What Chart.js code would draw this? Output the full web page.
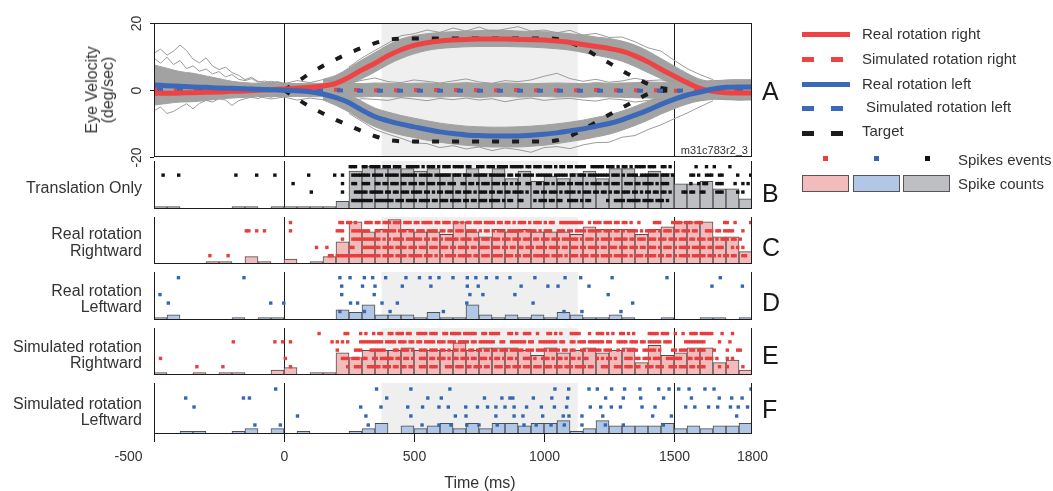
<!DOCTYPE html>
<html>
<head>
<meta charset="utf-8">
<title>Eye velocity and spike rasters</title>
<script src="https://cdn.jsdelivr.net/npm/chart.js@4.4.1/dist/chart.umd.min.js"></script>
<style>
  html, body { margin: 0; background: #fff; }
  #fig { position: relative; width: 1053px; height: 491px; overflow: hidden;
         font-family: "Liberation Sans", Arial, Helvetica, sans-serif; color: #333; }
  #fig canvas { position: absolute; left: 0; }
  .row-label { position: absolute; right: 911px; text-align: right; font-size: 16px; line-height: 16.5px; white-space: nowrap; }
  .letter { position: absolute; left: 762px; font-size: 25px; line-height: 25px; color: #1a1a1a; }
  .leg-text { position: absolute; font-size: 15px; line-height: 18px; white-space: nowrap; }
  .sw { position: absolute; }
  .box { position: absolute; box-sizing: border-box; border: 1.5px solid #555; width: 47px; height: 17px; top: 175px; }
</style>
</head>
<body>
<div id="fig">
  <canvas id="cvB" width="1053" height="56" style="top:157px"></canvas>
  <canvas id="cvC" width="1053" height="55" style="top:213px"></canvas>
  <canvas id="cvD" width="1053" height="56" style="top:268px"></canvas>
  <canvas id="cvE" width="1053" height="55" style="top:324px"></canvas>
  <canvas id="cvF" width="1053" height="112" style="top:379px"></canvas>
  <canvas id="cvA" width="1053" height="175" style="top:0"></canvas>

  <div style="position:absolute;left:99.5px;top:90px;transform:translate(-50%,-50%) rotate(-90deg);text-align:center;font-size:16px;line-height:16px;white-space:nowrap">Eye Velocity<br>(deg/sec)</div>
  <div style="position:absolute;right:305px;top:143.7px;font-size:11px;line-height:13px">m31c783r2_3</div>

  <div class="row-label" style="top:179.5px">Translation Only</div>
  <div class="row-label" style="top:226.2px">Real rotation<br>Rightward</div>
  <div class="row-label" style="top:282.9px">Real rotation<br>Leftward</div>
  <div class="row-label" style="top:338.5px">Simulated rotation<br>Rightward</div>
  <div class="row-label" style="top:395.5px">Simulated rotation<br>Leftward</div>

  <div class="letter" style="top:78.8px">A</div>
  <div class="letter" style="top:180.5px">B</div>
  <div class="letter" style="top:234.8px">C</div>
  <div class="letter" style="top:289.8px">D</div>
  <div class="letter" style="top:343.1px">E</div>
  <div class="letter" style="top:397.1px">F</div>

  <div style="position:absolute;left:380px;width:200px;top:473.5px;text-align:center;font-size:16px;line-height:18px">Time (ms)</div>

  <!-- legend -->
  <div class="sw" style="left:802px;top:31.5px;width:48px;height:5px;background:#ef4343"></div>
  <div class="leg-text" style="left:862px;top:25.2px">Real rotation right</div>
  <div class="sw" style="left:802px;top:56.5px;width:12px;height:5px;background:#ef4343"></div>
  <div class="sw" style="left:831px;top:56.5px;width:12px;height:5px;background:#ef4343"></div>
  <div class="leg-text" style="left:862px;top:49.7px">Simulated rotation right</div>
  <div class="sw" style="left:802px;top:81.5px;width:48px;height:5px;background:#3b68b8"></div>
  <div class="leg-text" style="left:862px;top:75px">Real rotation left</div>
  <div class="sw" style="left:802px;top:106px;width:12px;height:5px;background:#3b68b8"></div>
  <div class="sw" style="left:831px;top:106px;width:12px;height:5px;background:#3b68b8"></div>
  <div class="leg-text" style="left:866px;top:98.3px">Simulated rotation left</div>
  <div class="sw" style="left:802px;top:131px;width:12px;height:5px;background:#1b1b1b"></div>
  <div class="sw" style="left:831px;top:131px;width:12px;height:5px;background:#1b1b1b"></div>
  <div class="leg-text" style="left:862px;top:122.2px">Target</div>
  <div class="sw" style="left:823px;top:156px;width:5px;height:5px;background:#ea3d3d"></div>
  <div class="sw" style="left:874px;top:156px;width:5px;height:5px;background:#3566b3"></div>
  <div class="sw" style="left:925px;top:156px;width:5px;height:5px;background:#111"></div>
  <div class="leg-text" style="left:958px;top:150.5px">Spikes events</div>
  <div class="box" style="left:802px;background:#f2bcbc"></div>
  <div class="box" style="left:853px;background:#b0c7e6"></div>
  <div class="box" style="left:903px;background:#bebfc3"></div>
  <div class="leg-text" style="left:958px;top:174.8px">Spike counts</div>
</div>

<script>
const T_START = -500;
const T_END = 1800;
const SHADE = [375, 1130];
const EVENT_LINES = [0, 1500];
const Y_TICKS = [20, 0, -20];
const X_TICKS = [-500, 0, 500, 1000, 1500, 1800];

// time base for the eye traces, every 50 ms
const t50 = Array.from({ length: 47 }, (_, i) => T_START + 50 * i);
const tBand = t50.slice(13);            // 150 .. 1800, where the traces split

// mean eye velocity (deg/s)
const realRight = [-1.0,-1.0,-0.9,-0.8,-0.7,-0.6,-0.4,-0.3,-0.1,0.1, 0.3,0.5,0.8,1.2,2.0,3.8,6.0,8.0,10.2,12.0,
  13.3,14.1,14.6,14.9,15.1,15.2,15.2,15.2,15.1,15.0, 14.9,14.6,14.2,13.6,13.0,12.4,11.6,10.2,8.4,6.2, 4.2,2.2,0.5,-0.4,-0.8,-0.9,-0.9];
const realLeft = [1.5,1.3,1.1,0.9,0.8,0.6,0.5,0.4,0.2,0.1, -0.1,-0.2,-0.5,-1.2,-2.3,-3.8,-6.0,-8.0,-9.2,-10.2,
  -11.0,-11.8,-12.5,-13.0,-13.4,-13.6,-13.7,-13.7,-13.7,-13.5, -13.2,-12.8,-12.2,-11.6,-10.8,-10.0,-8.9,-7.5,-6.0,-4.3, -2.8,-1.5,-0.6,0.3,0.8,0.9,0.9];

// simulated rotation, every 100 ms
const t100 = Array.from({ length: 24 }, (_, i) => T_START + 100 * i);
const simRight = [0.3,0.2,0.2,0.1,0.1,0.1,0.0,0.1,0.0,-0.1, 0.0,0.0,0.0,-0.1,0.0,-0.1,-0.1,0.0,-0.1,-0.1, -0.2,-0.3,-0.2,-0.2];
const simLeft  = [0.1,0.2,0.1,0.1,0.0,0.0,0.0,-0.1,-0.2,-0.2, -0.2,-0.2,-0.2,-0.2,-0.2,-0.2,-0.2,-0.2,-0.2,-0.2, -0.2,-0.1,-0.1,-0.2];

// target velocity, 0 .. 1500 ms
const tTarget = t50.slice(10, 41);
const targetUp = [0,2.4,5.0,7.2,9.2,11.0,12.6,14.0,15.0,15.3, 15.4,15.4,15.4,15.4,15.4,15.4,15.4,15.4,15.4,15.4,
  15.4,15.2,14.2,12.5,10.3,8.1,5.8,3.7,1.8,0.6,0];
const targetDown = [0,-2.6,-5.0,-7.0,-8.9,-10.6,-12.3,-13.8,-14.9,-15.3, -15.4,-15.4,-15.4,-15.4,-15.4,-15.4,-15.4,-15.4,-15.4,-15.4,
  -15.4,-15.0,-13.8,-11.8,-9.6,-7.4,-5.3,-3.2,-1.2,-0.3,0];

// spread of single-trial traces
const midHi = [7.5,6.5,5.5,5.0,4.2,3.4,2.6,2.2,2.0,2.1, 2.0,1.9,2.0,2.0,1.9,2.0,1.9,2.1,2.0,1.9,
  2.0,2.1,1.9,2.0,2.2,2.0,1.9,2.1,2.0,1.9, 2.0,2.1,2.0,1.9,2.2,2.0,2.1,2.2,2.4,2.3, 2.5,2.6,2.4,2.2,2.1,2.0,2.0];
const midLo = [-4.5,-4.0,-3.6,-3.5,-3.1,-2.7,-2.4,-2.2,-2.0,-1.9, -2.0,-1.9,-2.0,-2.0,-1.9,-2.0,-2.1,-1.9,-2.0,-2.1,
  -1.9,-2.0,-2.1,-1.9,-2.0,-2.2,-2.0,-1.9,-2.1,-2.0, -1.9,-2.1,-2.0,-2.2,-2.0,-2.1,-2.2,-2.3,-2.4,-2.5, -2.6,-2.8,-2.6,-2.4,-2.2,-2.1,-2.1];
const upHi = [3.2,4.4,6.6,9.0,11.2,13.4,15.2,16.2,16.8,17.2, 17.4,17.6,17.7,17.9,17.8,17.6,17.5,17.4,17.2,16.8,
  16.4,15.8,15.4,14.6,13.4,11.6,9.4,7.2,5.0,3.2, 2.4,2.0,2.2,2.4];
const upLo = [-0.5,0.2,1.6,3.4,5.4,7.6,9.4,10.8,11.8,12.4, 12.7,12.9,13.0,13.0,13.0,12.9,12.8,12.6,12.3,11.9,
  11.2,10.4,9.6,8.6,7.0,5.2,3.4,1.6,-0.2,-1.8, -2.6,-2.9,-3.0,-3.0];
const downHi = [0.5,-0.2,-1.4,-3.4,-5.4,-6.6,-7.6,-8.4,-9.2,-9.9, -10.4,-10.8,-11.0,-11.1,-11.1,-11.0,-10.8,-10.5,-10.1,-9.6,
  -9.0,-8.2,-7.4,-6.3,-4.9,-3.4,-1.8,-0.4,0.9,1.8, 2.6,3.0,3.1,3.1];
const downLo = [-3.0,-4.6,-6.6,-9.0,-11.0,-12.4,-13.4,-14.2,-15.0,-15.6, -16.1,-16.5,-16.8,-17.0,-17.0,-17.0,-16.8,-16.5,-16.0,-15.4,
  -14.8,-14.0,-13.2,-12.0,-10.6,-9.0,-7.2,-5.6,-4.2,-3.2, -2.5,-2.2,-2.2,-2.2];

// a few stray single trials
const t25Pre = Array.from({ length: 21 }, (_, i) => T_START + 25 * i);
const strayPreA = [11.0,12.2,10.4,11.6,13.4,11.8,9.2,8.1,9.6,7.2,6.1,6.8,5.2,4.4,3.1,3.8,2.6,2.2,1.8,2.4,1.6];
const strayPreB = [9.5,8.0,9.8,7.6,8.8,6.4,7.2,5.6,6.3,4.8,5.5,3.9,4.6,3.2,2.8,3.4,2.3,2.7,2.1,2.5,2.0];
const strayPreC = [-6.2,-5.1,-7.0,-6.4,-5.2,-4.1,-5.6,-4.0,-3.1,-3.6,-2.6,-3.0,-4.6,-3.2,-2.6,-2.1,-2.6,-1.7,-2.2,-1.6,-1.2];
const tStep = t50.slice(15, 44);
const strayUp = [6.9,9.6,11.8,14.0,16.2,16.8,17.9,17.2,18.5,17.6, 18.8,17.4,18.2,18.9,17.6,17.9,17.1,17.8,16.4,16.9,
  15.7,15.8,14.4,12.6,11.6,8.9,6.4,4.6,3.1];
const strayDown = [-7.0,-9.4,-11.8,-13.2,-14.4,-15.8,-16.0,-17.2,-16.6,-17.6, -17.0,-18.1,-17.3,-17.8,-18.6,-17.2,-16.9,-17.5,-16.4,-15.7,
  -15.6,-14.1,-13.6,-11.8,-10.4,-8.6,-6.9,-5.0,-3.2];
const tMid = t50.slice(8);
const strayMidUp = [1.8,2.6,1.9,2.8,2.2,3.1,2.4,2.0,2.9,3.6, 2.5,2.2,3.0,2.6,2.1,2.7,3.3,2.4,2.0,2.8,
  2.5,3.0,4.1,5.0,3.4,2.6,3.2,2.3,2.7,3.5, 2.8,3.0,2.5,3.1,2.4,2.9,2.6,2.2,2.8];
const strayMidDown = [-1.9,-2.7,-2.1,-3.0,-2.4,-2.9,-2.2,-3.4,-2.6,-2.8, -3.1,-2.3,-2.7,-3.2,-2.5,-2.9,-2.4,-3.0,-2.6,-3.5,
  -2.8,-2.4,-3.1,-2.7,-2.5,-3.0,-3.3,-2.6,-2.9,-3.6, -3.1,-2.7,-2.9,-2.4,-3.2,-2.8,-2.6,-3.0,-2.7];

// spike counts per 50 ms bin, summed over the five trials
const BIN_START = -500, BIN_W = 50;
const countsB = [1,1,0,0,0,0,1,1,0,1, 1,1,1,1,3,15,17,16,16,16, 15,16,14,14,16,14,16,12,15,11, 13,12,14,15,12,16,16,13,15,14, 10,10,11,8,8,4];
const countsC = [0,0,0,0,1,1,0,3,1,0, 2,0,1,3,9,17,13,14,18,14, 13,13,12,17,13,11,14,13,14,13, 13,13,12,15,14,14,14,12,14,15, 17,17,17,11,11,5];
const countsD = [1,2,0,0,0,0,1,0,1,1, 0,0,0,0,4,3,6,2,2,2, 1,3,1,1,6,2,1,2,1,2, 1,3,2,1,1,2,1,0,0,1, 0,0,1,1,0,1];
const countsE = [1,0,0,1,0,1,1,0,0,2, 3,0,1,1,9,7,10,10,10,11, 10,10,10,13,10,11,11,11,10,8, 11,9,10,11,9,10,11,5,12,8, 9,11,11,5,6,2];
const countsF = [0,0,1,1,0,0,1,2,0,2, 0,1,0,0,0,1,2,4,0,3, 2,3,4,2,4,2,4,4,3,4, 4,5,1,2,5,3,3,3,3,4, 2,3,2,3,3,4];

// rasters, top trial first: 10 ms slots in 100 ms groups ('x' = spike) or spike times in ms
const rowsB = [
  '.......... .......... .......... .......... .......... .......... .......... .....xxx.. xx.xxxx.xx x.xxx..xxx xx.x.xxx.x .xxx.xxxx. xx..xxx.xx x.xxxx.xxx xx.xx.xxx. xxx.x.xx.x x.xxxx..xx xxx.xxx.x. xx.x.xxxx. xxx..xx.x. ........x. ..x..x.... .x........',
  '...x.....x .......... .......... .x.......x ......x... .........x .........x ..x...xxxx xxx.xxxx.x xxxx.xxxxx x.xxxxx.xx xxxx.xxx.x xx.xxxxx.x xxxxx.xx.x x.xxxx.xxx xxx.xxxxx. xx.xxx.xxx xxxxx.xxx. x.xxxx.xxx xxxx.xxx.x ......xx.x ..xxx..xx. ....x....x',
  '.......... .......... .......... .......... .......... ...x...... .......... ..x...xx.. xxx..xx.xx .xxx.xx.xx x.xx.xxx.x xx.xxx..xx .xx.x.xxx. xxx.xx.x.x x..xx..xx. xx.x.xxx.x x.xxx.x.xx xx.xx.xxx. .xxx.xx.xx xx.x.xxx.. ......x..x .xx...xxx. ...x..x.x.',
  '.......... .......... .......... .......... .......... .......... x......... ..x....xxx xx.xxxxx.x x.xx.xxx.x xxx.xx.x.x x.xxx.xx.x xx.x.xxx.x x.xx.xx.xx xx.x..xx.x x.xxx.x.xx xx.x.xxx.x x.xx.x.xx. xxx.xx.x.x x.xx.xx.x. ...xx.xx.. xx....xxx. ....x.x...',
  '.......... .......... .......... .......... .......... .......... .......... ......xxxx xxxx.xxxxx xx.xxx.xxx x.xxxx.xx. xxx.xxxx.x x.xx.xxx.x xxx.x.xx.. xx....x.xx x.xx.xx..x xxx.x.xx.. ....x..xxx x.xxxxx.xx xx.xxx.x.. .......... .......... ..........'
];
const rowsC = [
  '.......... .......... .......... .......... .......... ..x....... .......... .xx.xx.x.. .xxx.xx.xx x.xxx.xxx. xx.xxxx.xx .xxx.xx.x. xx.xxx.xxx x.xx.xx.x. xxx.x.xxx. x.xx..xxxx xxxxx..x.x xx.xxx.xx. xx.x..x... ..xxx....x xxx.xxx.xx x........x x..x.....x',
  '.......... .......... .......... .....xx..x ..x....... ..x....... .......... xxx...xxxx xxx..xx.xx xxx.xxx.xx .xxx.xxxx. xx.xx.xxx. xxxx.x.xx. x.xxx.xxxx xx.xxxx.x. xxx..xxx.x x.xxxx.xxx xx.xxx.xx. x.xxxx.x.x xxx.x.xxx. xx.xxx.xx. ..xxx.xx.x xxx...x...',
  '.......... .......... .......... .......... .......... .......... .......... ..x...xxxx xxxxxxx.x. x.xxxx.xxx xxx.xx.xx. x.xxxxx.xx xx.xx.xxx. xxx.xxx.xx x.xxx.xx.x xx.xxx.xxx xxx.x.xxx. x.xxxx.xxx xx.xx.xxx. xxx.xxx.xx x.xxx.xx.x xx.xx.x.xx x.xx.x....',
  '.......... .......... .......... .......... .......... .......... ..x...x... .....xx... xxxxxxx.xx xx.xxxx.xx x.xxx.xxx. xxx.xx.xxx x.xx.xxxx. xxx.xx.xx. xx.xxx.xxx x.xxxx.xx. xxx.xx.xxx x.xx.xxx.x xx.xxx.xx. xxx.x.xxx. x.xxxx.xxx xx.xx.xxx. ..x.x.x...',
  '.......... .......... .x......x. .......... .......... .......... .......xx. xxxxxxxxxx xxxxxxx.xx xx.xxxx.xx xxx.xxx.x. x.xxxx.xxx xx.xx.xxx. xxxx.xxx.x x.xxx.xxxx xx.xxxx.x. xxx.xxx.xx x.xxxx.xxx xx.x.xxx.x xxx.xx.xx. x.xxxx.xxx xx.xxx.x.x x.xx..xx..'
];
const rowsD = [
  [-406, -154, 215, 254, 309, 341, 391, 469, 521, 562, 596, 650, 705, 738, 778, 819, 869, 965, 1081, 1141, 1262, 1473, 1678],
  [222, 302, 350, 455, 565, 705, 747, 912, 1015, 1054, 1173, 1646, 1763],
  [-477, 222, 347, 715, 765, 888, 1247],
  [-445, -51, -1, 256, 283, 377, 436, 703, 958, 1341],
  [215, 309, 408, 613, 1077, 1146, 1296]
];
const rowsE = [
  '.......... .......... .......... .......... .......... .......... ...x...... ...xx....x .x..x.xx.. xx.xxx.xx. .xxxx.xxx. .xx.xxxx.x xxxx..xx.x xxx...xx.x ..xxx..x.. .xx.x.x... xxxx...x.. xxx.x.x..x x.x.x..... xxxx.xxx.. x..x..xxx. xxxxx...x. ..x.......',
  '.......... .......... .......... x......... ......x..x ..x....... ........x. x.x.x....x xxxxxxxx.x xxx.xxx.xx .xx.xxxx.x xx.xxx.xxx x.xx.xxxxx x..xx..xxx xxx.xx..xx xxxxx.xx.. xx.xxx.xxx xxx.xx..xx xx.xxx.xx. xxxxx.xxx. ....xxxxxx xx.....x.. .x........',
  '.......... .......... .......... .......... .......... .......... .......... x......xxx ...xxxxxx. ..xx.xxx.x ..xxx.xxx. xx.x.xx.xx .xx.xx.xx. xx.xxx.xxx xx.xxx.xxx x.xxxx.xx. xx..xx.xxx xx.xxx..x. x.xxxx..xx xxx.x....x x.xxx.xx.x xx...x.... x...xx....',
  '..x....... .......... .......... .......... .......... x......... .......... ..xxx.xxx. xx..xx.xxx xx.xx.xx.x ..xxx.xx.x xx.x.xx.xx x.xx.xxx.x .xx.x.xx.x ..xxx.x..x xx.x.xx.x. xx.x.xx... x.x.xx.x.. .xxx.xx.xx x.xxx..xxx xxx..xx.xx x.xxx.x... x.x.......',
  '.......... ......x... ......x... .......... .......... ..x....... .......... ....x..xxx ..xxxxx.xx x.xx.xx.xx ..xxx.xxx. ..xxx.xxx. xx.xxx.xx. .xxx.xx.xx x.xxx.xxx. xxx.xxx.xx x.xxxx.xx. ..xxx..xxx .xxx.xx..x xx.xxx..xx x.xxx.xx.x xx.....x.. x.....x...'
];
const rowsF = [
  [-32, 356, 488, 638, 1042, 1095, 1173, 1205, 1260, 1310, 1369, 1441, 1481, 1518, 1558, 1619, 1654, 1796],
  [-378, -156, -133, 395, 553, 605, 771, 838, 869, 880, 959, 1030, 1091, 1237, 1305, 1372, 1460, 1567, 1674, 1722, 1762],
  [-346, 295, 373, 476, 533, 596, 632, 699, 744, 783, 815, 850, 885, 933, 990, 1040, 1087, 1178, 1218, 1259, 1294, 1377, 1427, 1545, 1580, 1633, 1668, 1717, 1747, 1783],
  [52, 315, 488, 659, 700, 815, 885, 919, 995, 1074, 1096, 1146, 1226, 1418, 1490, 1741],
  [-112, -14, 324, 531, 596, 642, 703, 750, 820, 923, 970, 1027, 1078, 1146, 1236, 1305, 1459]
];

const RED = '#ef4343', BLUE = '#3b68b8', GREY = '#a2a2a2';
const BAR_EDGE = 'rgba(60,60,60,0.9)';
const COUNT_MAX = 19;
const FONT = '"Liberation Sans", Arial, sans-serif';

function xy(ts, vs) {
  return vs.map((v, i) => ({ x: ts[i], y: v }));
}

function spikeTimes(row) {
  if (Array.isArray(row)) return row;
  const times = [];
  row.split(' ').forEach((grp, g) => {
    [...grp].forEach((ch, c) => {
      if (ch === 'x') times.push(T_START + 100 * g + 10 * c + 5);
    });
  });
  return times;
}

// shading, event lines, frame and hand-placed axis labels
const panelDecor = {
  id: 'panelDecor',
  defaults: { frameTop: false, yTicks: false, xAxis: false },
  beforeDatasetsDraw(chart) {
    const { ctx, chartArea: a } = chart;
    const x = chart.scales.x;
    const s0 = x.getPixelForValue(SHADE[0]);
    const s1 = x.getPixelForValue(SHADE[1]);
    ctx.save();
    ctx.fillStyle = '#efefef';
    ctx.fillRect(s0, a.top, s1 - s0, a.bottom - a.top);
    ctx.strokeStyle = '#1c1c1c';
    ctx.lineWidth = 1;
    ctx.beginPath();
    EVENT_LINES.forEach(v => {
      const px = Math.round(x.getPixelForValue(v)) + 0.5;
      ctx.moveTo(px, a.top);
      ctx.lineTo(px, a.bottom);
    });
    ctx.stroke();
    ctx.restore();
  },
  afterDraw(chart, args, o) {
    const { ctx, chartArea: a } = chart;
    const x = chart.scales.x;
    const l = Math.round(a.left) + 0.5;
    const r = Math.round(a.right) - 0.5;
    const t = Math.round(a.top) + 0.5;
    const b = Math.round(a.bottom) - 0.5;
    ctx.save();
    ctx.strokeStyle = '#1c1c1c';
    ctx.lineWidth = 1;
    ctx.beginPath();
    ctx.moveTo(l, a.top); ctx.lineTo(l, a.bottom);
    ctx.moveTo(r, a.top); ctx.lineTo(r, a.bottom);
    ctx.moveTo(a.left, b); ctx.lineTo(a.right, b);
    if (o.frameTop) { ctx.moveTo(a.left, t); ctx.lineTo(a.right, t); }
    ctx.stroke();

    ctx.fillStyle = '#333';
    if (o.yTicks) {
      const y = chart.scales.y;
      ctx.font = '14px ' + FONT;
      ctx.textAlign = 'center';
      ctx.textBaseline = 'alphabetic';
      Y_TICKS.forEach(v => {
        const py = Math.round(y.getPixelForValue(v)) + 0.5;
        ctx.beginPath();
        ctx.moveTo(a.left - 4, py); ctx.lineTo(a.left, py);
        ctx.stroke();
        ctx.save();
        ctx.translate(a.left - 13, py);
        ctx.rotate(-Math.PI / 2);
        ctx.fillText(String(v), 0, 0);
        ctx.restore();
      });
    }
    if (o.xAxis) {
      ctx.font = '14px ' + FONT;
      ctx.textAlign = 'center';
      ctx.textBaseline = 'alphabetic';
      X_TICKS.forEach(v => {
        const px = Math.round(x.getPixelForValue(v)) + 0.5;
        if (v < T_END) {
          ctx.beginPath();
          ctx.moveTo(px, a.bottom); ctx.lineTo(px, a.bottom + 8);
          ctx.stroke();
        }
        const shift = v === T_START ? -26 : 0;
        ctx.fillText(String(v), px + shift, a.bottom + 27);
      });
    }
    ctx.restore();
  }
};
Chart.register(panelDecor);

function baseOptions(padding, yScales, decor) {
  return {
    responsive: false,
    animation: false,
    events: [],
    layout: { padding },
    elements: { point: { radius: 0 } },
    scales: Object.assign({
      x: { type: 'linear', min: T_START, max: T_END, offset: false, grid: { offset: false }, display: false }
    }, yScales),
    plugins: { legend: { display: false }, tooltip: { enabled: false }, panelDecor: decor }
  };
}

const smooth = { cubicInterpolationMode: 'monotone', pointRadius: 0 };
const band = (hi, lo, ts) => [
  { data: xy(ts, hi), fill: '+1', backgroundColor: GREY, borderColor: GREY, borderWidth: 1, order: 9, ...smooth },
  { data: xy(ts, lo), fill: false, borderColor: GREY, borderWidth: 1, order: 9, ...smooth }
];
const stray = (ts, vs) => ({ data: xy(ts, vs), fill: false, borderColor: '#9c9c9c', borderWidth: 1, order: 8, pointRadius: 0 });

new Chart(document.getElementById('cvA'), {
  type: 'line',
  data: {
    datasets: [
      ...band(midHi, midLo, t50),
      ...band(upHi, upLo, tBand),
      ...band(downHi, downLo, tBand),
      stray(t25Pre, strayPreA), stray(t25Pre, strayPreB), stray(t25Pre, strayPreC),
      stray(tStep, strayUp), stray(tStep, strayDown),
      stray(tMid, strayMidUp), stray(tMid, strayMidDown),
      { data: xy(tTarget, targetUp), borderColor: '#1b1b1b', borderWidth: 4, borderDash: [7, 13], order: 5, ...smooth },
      { data: xy(tTarget, targetDown), borderColor: '#1b1b1b', borderWidth: 4, borderDash: [7, 13], order: 5, ...smooth },
      { data: xy(t100, simRight), borderColor: RED, borderWidth: 4, borderDash: [6, 14], order: 4, ...smooth },
      { data: xy(t100, simLeft), borderColor: BLUE, borderWidth: 4, borderDash: [6, 14], borderDashOffset: -3, order: 3, ...smooth },
      { data: xy(t50, realRight), borderColor: RED, borderWidth: 5, order: 2, ...smooth },
      { data: xy(t50, realLeft), borderColor: BLUE, borderWidth: 5, order: 1, ...smooth }
    ]
  },
  options: baseOptions({ top: 23, bottom: 18, left: 154, right: 301 },
    { y: { type: 'linear', min: -20, max: 20, display: false } },
    { frameTop: true, yTicks: true })
});

function rasterChart(id, counts, rows, barFill, dotColor, bottomPad, decor) {
  const bars = counts.map((c, k) => ({ x: BIN_START + BIN_W * (k + 0.5), y: c > 0 ? c : null }));
  const dots = rows.flatMap((row, r) => spikeTimes(row).map(t => ({ x: t, y: r })));
  return new Chart(document.getElementById(id), {
    type: 'bar',
    data: {
      datasets: [
        { type: 'scatter', data: dots, yAxisID: 'yRow', pointStyle: 'rect', pointRadius: 2.4,
          backgroundColor: dotColor, borderWidth: 0, order: 0 },
        { type: 'bar', data: bars, yAxisID: 'yCount', backgroundColor: barFill, borderColor: BAR_EDGE,
          borderWidth: 1, borderSkipped: false, barPercentage: 1, categoryPercentage: 1, order: 1 }
      ]
    },
    options: baseOptions({ top: 0, bottom: bottomPad, left: 154, right: 301 }, {
      yCount: { type: 'linear', min: 0, max: COUNT_MAX, display: false },
      yRow: { type: 'linear', min: -0.67, max: 5.0, reverse: true, display: false }
    }, decor || {})
  });
}

rasterChart('cvB', countsB, rowsB, '#bebfc3', '#111111', 0);
rasterChart('cvC', countsC, rowsC, '#f2bcbc', '#ea3d3d', 0);
rasterChart('cvD', countsD, rowsD, '#b0c7e6', '#3566b3', 0);
rasterChart('cvE', countsE, rowsE, '#f2bcbc', '#ea3d3d', 0);
rasterChart('cvF', countsF, rowsF, '#b0c7e6', '#3566b3', 57, { xAxis: true });
</script>
</body>
</html>
